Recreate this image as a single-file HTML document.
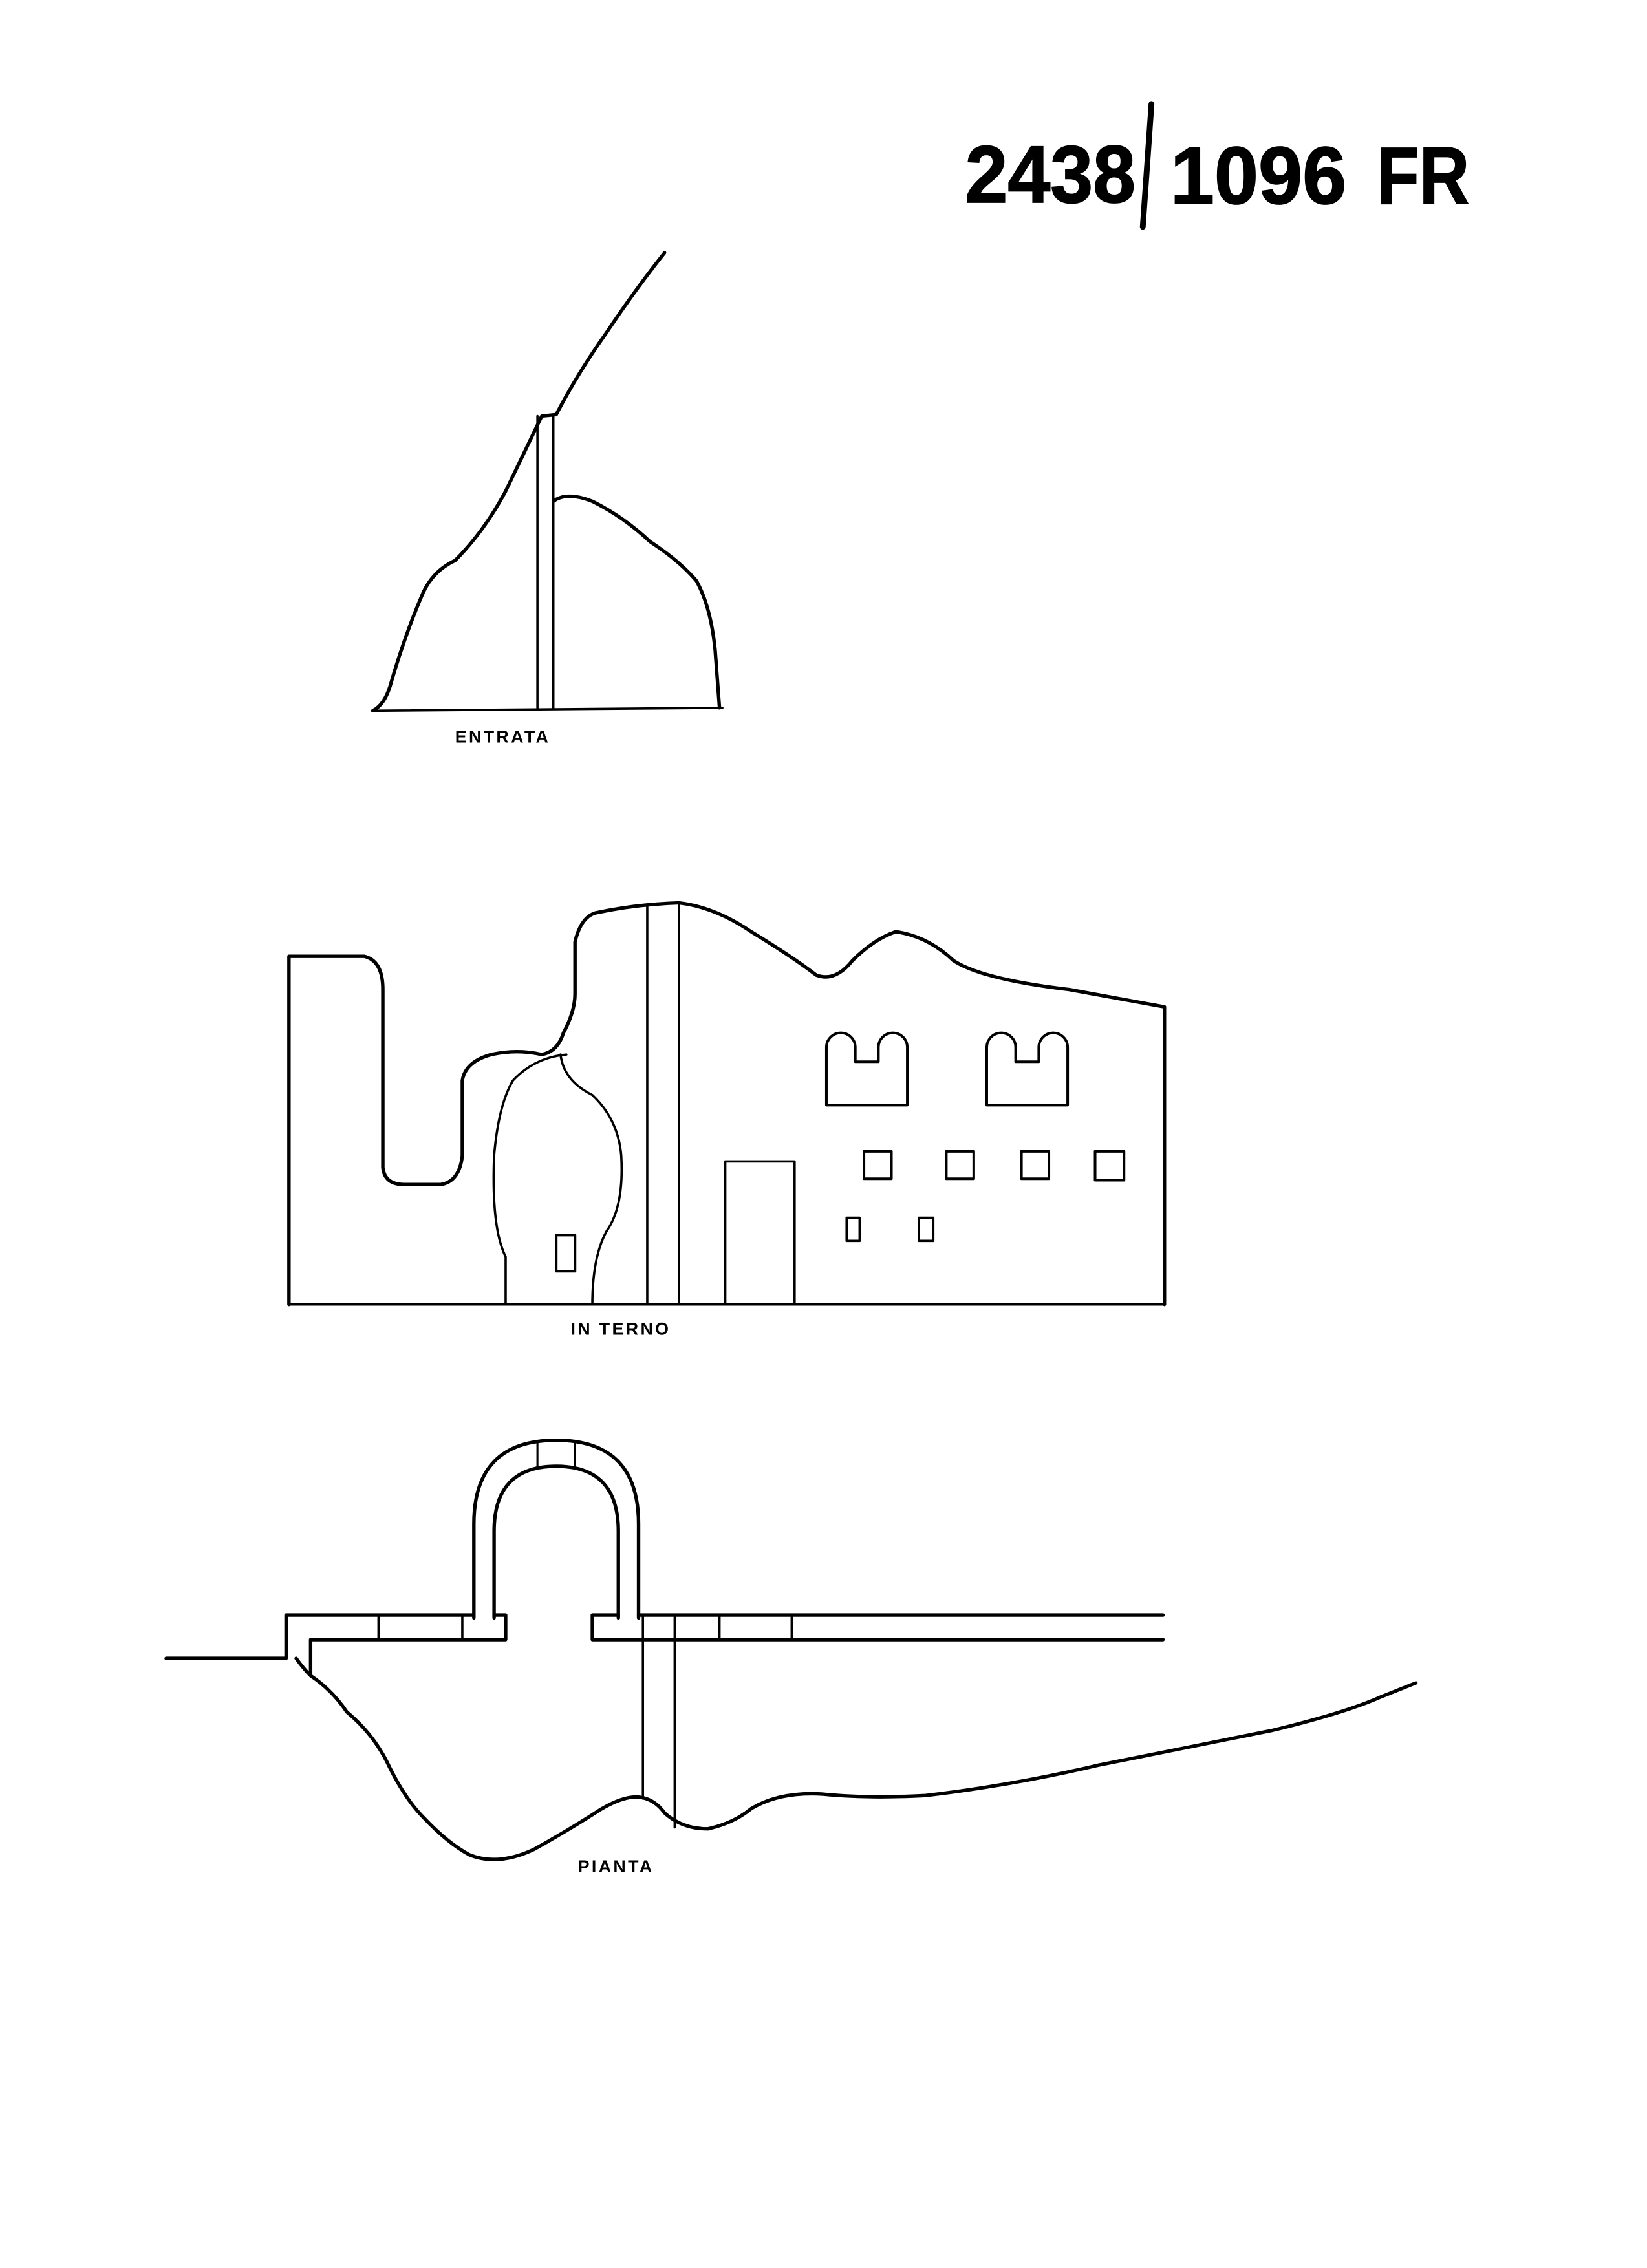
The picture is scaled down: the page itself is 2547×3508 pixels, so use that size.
<!DOCTYPE html>
<html><head><meta charset="utf-8"><style>
html,body{margin:0;padding:0;background:#fff;}
svg{display:block;}
</style></head><body>
<svg width="2547" height="3508" viewBox="0 0 1140 1570" preserveAspectRatio="none" xmlns="http://www.w3.org/2000/svg">
<g fill="none" stroke="#000" stroke-width="2.4" stroke-linejoin="round" stroke-linecap="round">
<line x1="797" y1="72" x2="791" y2="157" stroke-width="4"/>
<line x1="258" y1="492" x2="500" y2="490" stroke-width="1.6"/>
<path d="M258,492 Q266,488 270,475 Q280,440 293,410 Q300,395 315,388 Q335,368 350,340 Q362,315 375,288 L385,287 Q400,258 420,230 Q440,200 460,175"/>
<line x1="372" y1="288" x2="372" y2="490" stroke-width="1.6"/>
<line x1="383" y1="288" x2="383" y2="490" stroke-width="1.6"/>
<path d="M383,347 Q392,340 410,347 Q432,358 450,375 Q470,388 482,402 Q492,420 495,450 L498,490"/>
<line x1="200" y1="903" x2="806" y2="903" stroke-width="1.6"/>
<path d="M200,903 L200,662 L252,662 Q265,665 265,685 L265,808 Q266,820 280,820 L305,820 Q318,818 320,800 L320,748 Q322,735 340,730 Q358,726 375,730 Q386,728 390,715 Q398,700 398,688 L398,652 Q402,635 412,632 Q440,626 470,625 Q495,628 520,645 Q548,662 565,675 Q578,680 590,665 Q605,650 620,645 Q642,648 660,665 Q680,678 740,685 L806,697 L806,903"/>
<path d="M392,730 Q370,732 355,748 Q345,765 342,800 Q340,850 350,870 L350,903" stroke-width="1.6"/>
<path d="M388,730 Q390,748 410,758 Q428,775 430,800 Q432,835 420,852 Q410,870 410,903" stroke-width="1.6"/>
<line x1="448" y1="628" x2="448" y2="903" stroke-width="1.6"/>
<line x1="470" y1="625" x2="470" y2="903" stroke-width="1.6"/>
<rect x="502" y="804" width="48" height="99" stroke-width="1.6"/>
<path d="M572,765 L572,725 A10,10 0 0 1 592,725 L592,735 L608,735 L608,725 A10,10 0 0 1 628,725 L628,765 Z" stroke-width="1.8"/>
<path d="M683,765 L683,725 A10,10 0 0 1 703,725 L703,735 L719,735 L719,725 A10,10 0 0 1 739,725 L739,765 Z" stroke-width="1.8"/>
<rect x="598" y="797" width="19" height="19" stroke-width="1.8"/>
<rect x="655" y="797" width="19" height="19" stroke-width="1.8"/>
<rect x="707" y="797" width="19" height="19" stroke-width="1.8"/>
<rect x="758" y="797" width="20" height="20" stroke-width="1.8"/>
<rect x="586" y="843" width="9" height="16" stroke-width="1.6"/>
<rect x="636" y="843" width="10" height="16" stroke-width="1.6"/>
<rect x="385" y="855" width="13" height="25" stroke-width="1.8"/>
<path d="M328,1120 L328,1055 Q328,997 385,997 Q442,997 442,1055 L442,1120"/>
<path d="M342,1120 L342,1060 Q342,1015 385,1015 Q428,1015 428,1060 L428,1120"/>
<line x1="372" y1="998" x2="372" y2="1015" stroke-width="1.4"/>
<line x1="398" y1="998" x2="398" y2="1015" stroke-width="1.4"/>
<path d="M115,1148 L198,1148 L198,1118 L328,1118"/>
<path d="M215,1160 L215,1135 L350,1135 L350,1118 L342,1118"/>
<line x1="262" y1="1118" x2="262" y2="1135" stroke-width="1.6"/>
<line x1="320" y1="1118" x2="320" y2="1135" stroke-width="1.6"/>
<path d="M428,1118 L410,1118 L410,1135 L805,1135"/>
<line x1="442" y1="1118" x2="805" y2="1118"/>
<line x1="498" y1="1118" x2="498" y2="1135" stroke-width="1.6"/>
<line x1="548" y1="1118" x2="548" y2="1135" stroke-width="1.6"/>
<line x1="445" y1="1118" x2="445" y2="1245" stroke-width="1.6"/>
<line x1="467" y1="1118" x2="467" y2="1265" stroke-width="1.6"/>
<path d="M205,1148 Q210,1155 215,1160 Q230,1170 240,1185 Q258,1200 268,1220 Q280,1245 293,1258 Q310,1276 325,1284 Q345,1292 370,1280 Q395,1266 415,1253 Q430,1244 440,1244 Q452,1244 460,1255 Q472,1266 490,1266 Q508,1262 520,1252 Q540,1240 570,1242 Q600,1245 640,1243 Q700,1236 760,1222 Q820,1210 880,1198 Q930,1186 955,1175 L980,1165"/>
</g>
<g font-family="Liberation Sans, sans-serif" fill="#000">
<g font-weight="bold" stroke="#000" stroke-width="0.8">
<text x="668" y="140" font-size="56" textLength="118" lengthAdjust="spacingAndGlyphs">2438</text>
<text x="810" y="141" font-size="56" textLength="122" lengthAdjust="spacingAndGlyphs">1096</text>
<text x="953" y="141" font-size="56" textLength="64" lengthAdjust="spacingAndGlyphs">FR</text>
</g>
<text x="315" y="514" font-size="12" font-weight="bold" letter-spacing="1.5">ENTRATA</text>
<text x="395" y="924" font-size="12" font-weight="bold" letter-spacing="1.5">IN TERNO</text>
<text x="400" y="1296" font-size="12" font-weight="bold" letter-spacing="1.5">PIANTA</text>
</g>
</svg>
</body></html>
